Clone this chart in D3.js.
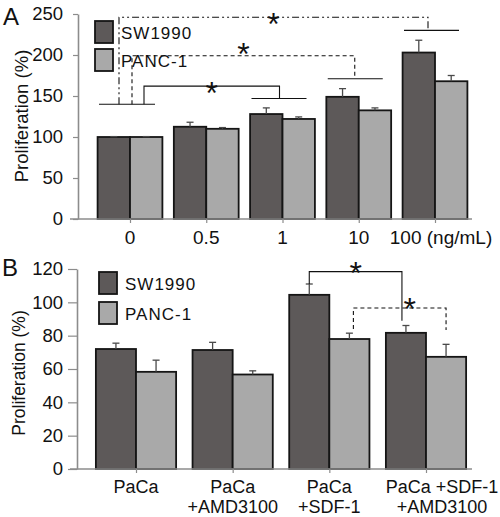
<!DOCTYPE html>
<html>
<head>
<meta charset="utf-8">
<script src="https://cdn.jsdelivr.net/npm/d3@7"></script>
<style>
  html, body { margin: 0; padding: 0; background: #fff; }
  svg { display: block; font-family: "Liberation Sans", Arial, sans-serif; }
</style>
</head>
<body>
<svg id="chart" width="500" height="517"></svg>
<script>
// ---------- DATA ----------
const seriesNames = ["SW1990", "PANC-1"];

// Panel A
const catsA = ["0", "0.5", "1", "10", "100"];
const labelsA = ["0", "0.5", "1", "10", "100 (ng/mL)"];
const sw1990A = [100, 112.5, 128, 149, 203];
const sw1990AErr = [0.5, 5.5, 7.5, 10, 15];
const panc1A = [100, 110, 122, 132.5, 168];
const panc1AErr = [0.5, 1.5, 2.5, 3, 7];
const yTicksA = [0, 50, 100, 150, 200, 250];
// significance brackets A: from group, to group, base level, top level, end level
const sigA = [
  { from: "0", to: "1",   base: 140, top: 162, end: 147, style: "solid" },
  { from: "0", to: "10",  base: 140, top: 199, end: 171, style: "dashed" },
  { from: "0", to: "100", base: 140, top: 246, end: 230, style: "dashdot" }
];

// Panel B
const catsB = ["PaCa", "PaCa +AMD3100", "PaCa +SDF-1", "PaCa +SDF-1 +AMD3100"];
const labelsB = [["PaCa"], ["PaCa", "+AMD3100"], ["PaCa", "+SDF-1"], ["PaCa +SDF-1", "+AMD3100"]];
const sw1990B = [72, 71.4, 104.5, 81.7];
const sw1990BErr = [3.5, 4.6, 6.5, 4.4];
const panc1B = [58.3, 56.7, 78, 67.3];
const panc1BErr = [7, 2.2, 3.5, 7.5];
const yTicksB = [0, 20, 40, 60, 80, 100, 120];
// significance brackets B: series index (0 = SW1990, 1 = PANC-1)
const sigB = [
  { from: "PaCa +SDF-1", to: "PaCa +SDF-1 +AMD3100", series: 0, start: 111, top: 118.4, end: 89, style: "solid" },
  { from: "PaCa +SDF-1", to: "PaCa +SDF-1 +AMD3100", series: 1, start: 84, top: 96.6, end: 83.4, style: "dashed" }
];

// ---------- STYLE ----------
const DARK = "#5d5959", LIGHT = "#a9a9a9";
const AXIS = "#8c8c8c";
const FONT = '"Liberation Sans", Arial, sans-serif';
const dashes = { solid: null, dashed: "4,3", dashdot: "7,3,2,3,2,3" };

const svg = d3.select("#chart");

function drawPanel(opt) {
  const g = svg.append("g");
  const x = d3.scalePoint().domain(opt.cats).range(opt.xRange);
  const y = d3.scaleLinear().domain(opt.yDomain).range(opt.yRange);
  const barW = x.step() * opt.barFrac;

  // bars
  const series = [
    { vals: opt.s1, errs: opt.e1, color: DARK, off: -barW },
    { vals: opt.s2, errs: opt.e2, color: LIGHT, off: 0 }
  ];
  series.forEach(s => {
    g.selectAll(null).data(opt.cats).enter().append("rect")
      .attr("x", (c) => x(c) + s.off)
      .attr("y", (c, i) => y(s.vals[i]))
      .attr("width", barW)
      .attr("height", (c, i) => y(0) - y(s.vals[i]))
      .attr("fill", s.color)
      .attr("stroke", "#151515")
      .attr("stroke-width", 1.8);
    // error bars
    const eg = g.selectAll(null).data(opt.cats).enter().append("g")
      .attr("stroke", "#4a4a4a").attr("stroke-width", 1.3);
    eg.append("line")
      .attr("x1", c => x(c) + s.off + barW / 2).attr("x2", c => x(c) + s.off + barW / 2)
      .attr("y1", (c, i) => y(s.vals[i])).attr("y2", (c, i) => y(s.vals[i] + s.errs[i]));
    eg.append("line")
      .attr("x1", c => x(c) + s.off + barW / 2 - 3.5).attr("x2", c => x(c) + s.off + barW / 2 + 3.5)
      .attr("y1", (c, i) => y(s.vals[i] + s.errs[i])).attr("y2", (c, i) => y(s.vals[i] + s.errs[i]));
  });

  // y axis
  const ya = g.append("g").attr("transform", `translate(${opt.yAxisX},0)`)
    .call(d3.axisLeft(y).tickValues(opt.yTicks).tickSize(opt.yTickSize).tickSizeOuter(0).tickPadding(opt.yTickPad));
  ya.attr("font-family", FONT);
  ya.select(".domain").attr("stroke", AXIS).attr("stroke-width", 1.6);
  ya.selectAll(".tick line").attr("stroke", AXIS).attr("stroke-width", 1.2);
  ya.selectAll(".tick text").attr("font-size", opt.yFont).attr("fill", "#111");

  // x axis
  const xa = g.append("g").attr("transform", `translate(0,${y(0)})`)
    .call(d3.axisBottom(x).tickSize(4).tickSizeOuter(0).tickPadding(8).tickFormat(() => ""));
  xa.select(".domain").remove();
  xa.selectAll(".tick line").attr("stroke", AXIS).attr("stroke-width", 1.2);
  g.append("line").attr("x1", opt.xLineStart).attr("x2", opt.xLineEnd)
    .attr("y1", y(0)).attr("y2", y(0)).attr("stroke", AXIS).attr("stroke-width", 1.6);

  // x labels
  opt.labels.forEach((lab, i) => {
    const lines = Array.isArray(lab) ? lab : [lab];
    const t = g.append("text")
      .attr("x", x(opt.cats[i]) + (i === opt.cats.length - 1 ? opt.lastShift : 0))
      .attr("text-anchor", "middle").attr("font-size", opt.xFont).attr("fill", "#111");
    lines.forEach((ln, k) => {
      t.append("tspan").attr("x", t.attr("x"))
        .attr("y", y(0) + opt.xLabelBase + k * opt.xLineGap).text(ln);
    });
  });

  // y-axis title
  g.append("text")
    .attr("transform", `translate(${opt.titleX},${opt.titleY}) rotate(-90)`)
    .attr("text-anchor", "middle").attr("font-size", opt.titleFont).attr("fill", "#111")
    .text("Proliferation (%)");

  // panel letter
  g.append("text").attr("x", opt.letterX).attr("y", opt.letterY)
    .attr("font-size", 24).attr("fill", "#111").text(opt.letter);

  // legend
  const lg = g.append("g");
  seriesNames.forEach((name, i) => {
    lg.append("rect").attr("x", opt.legX).attr("y", opt.legY + i * opt.legGap)
      .attr("width", 18).attr("height", 22)
      .attr("fill", i === 0 ? DARK : LIGHT).attr("stroke", "#151515").attr("stroke-width", 1.8);
    lg.append("text").attr("x", opt.legX + 26).attr("y", opt.legY + i * opt.legGap + 17.5)
      .attr("font-size", 17).attr("letter-spacing", 1).attr("fill", "#111").text(name);
  });

  return { g, x, y, barW };
}

function star(g, cx, cy) {
  g.append("text").attr("x", cx).attr("y", cy + 18).attr("text-anchor", "middle")
    .attr("font-size", 32).attr("fill", "#111").text("*");
}

function path(g, pts, style) {
  g.append("path").attr("d", d3.line()(pts)).attr("fill", "none")
    .attr("stroke", "#111").attr("stroke-width", 1.1)
    .attr("stroke-dasharray", dashes[style]);
}

// ---------- PANEL A ----------
const A = drawPanel({
  cats: catsA, labels: labelsA, s1: sw1990A, e1: sw1990AErr, s2: panc1A, e2: panc1AErr,
  xRange: [130, 435], yDomain: [0, 250], yRange: [219, 14], barFrac: 0.425,
  yTicks: yTicksA, yAxisX: 78, yTickSize: 5, yTickPad: 10, yFont: 18.5,
  xLineStart: 70, xLineEnd: 472, xFont: 19, xLabelBase: 25, xLineGap: 21, lastShift: 6,
  titleX: 28, titleY: 116, titleFont: 18.5, letter: "A", letterX: 3, letterY: 25,
  legX: 95, legY: 21, legGap: 28
});
{
  const { g, x, y } = A;
  const baseOff = { solid: 14, dashed: 2, dashdot: -11 };
  const endOff = { solid: -3, dashed: -4, dashdot: -7 };
  const starDy = { solid: 0, dashed: -9, dashdot: 0 };
  // base line under the reference group
  const b0 = x(sigA[0].from);
  path(g, [[b0 - 31, y(sigA[0].base)], [b0 + 25, y(sigA[0].base)]], "solid");
  sigA.forEach(s => {
    const x1 = x(s.from) + baseOff[s.style];
    const x2 = x(s.to) + endOff[s.style];
    path(g, [[x1, y(s.base)], [x1, y(s.top)], [x2, y(s.top)], [x2, y(s.end)]], s.style);
    path(g, [[x(s.to) - 31, y(s.end)], [x(s.to) + 24, y(s.end)]], "solid");
    star(g, (x1 + x2) / 2, y(s.top) + starDy[s.style]);
  });
}

// ---------- PANEL B ----------
const B = drawPanel({
  cats: catsB, labels: labelsB, s1: sw1990B, e1: sw1990BErr, s2: panc1B, e2: panc1BErr,
  xRange: [136, 426], yDomain: [0, 120], yRange: [469, 269], barFrac: 0.415,
  yTicks: yTicksB, yAxisX: 77, yTickSize: 9, yTickPad: 5, yFont: 18.5,
  xLineStart: 70, xLineEnd: 472, xFont: 18, xLabelBase: 24, xLineGap: 20, lastShift: 16,
  titleX: 25, titleY: 373, titleFont: 17.5, letter: "B", letterX: 2, letterY: 276,
  legX: 99, legY: 272, legGap: 30
});
{
  const { g, x, y, barW } = B;
  const offs = { solid: [0, -4], dashed: [4, 0] };
  const starDy = { solid: -6, dashed: -6 };
  sigB.forEach(s => {
    const so = s.series === 0 ? -barW / 2 : barW / 2;
    const x1 = x(s.from) + so + offs[s.style][0];
    const x2 = x(s.to) + so + offs[s.style][1];
    path(g, [[x1, y(s.start)], [x1, y(s.top)], [x2, y(s.top)], [x2, y(s.end)]], s.style);
    star(g, (x1 + x2) / 2 + (s.style === "dashed" ? 10 : 0), y(s.top) + starDy[s.style]);
  });
}
</script>
</body>
</html>
